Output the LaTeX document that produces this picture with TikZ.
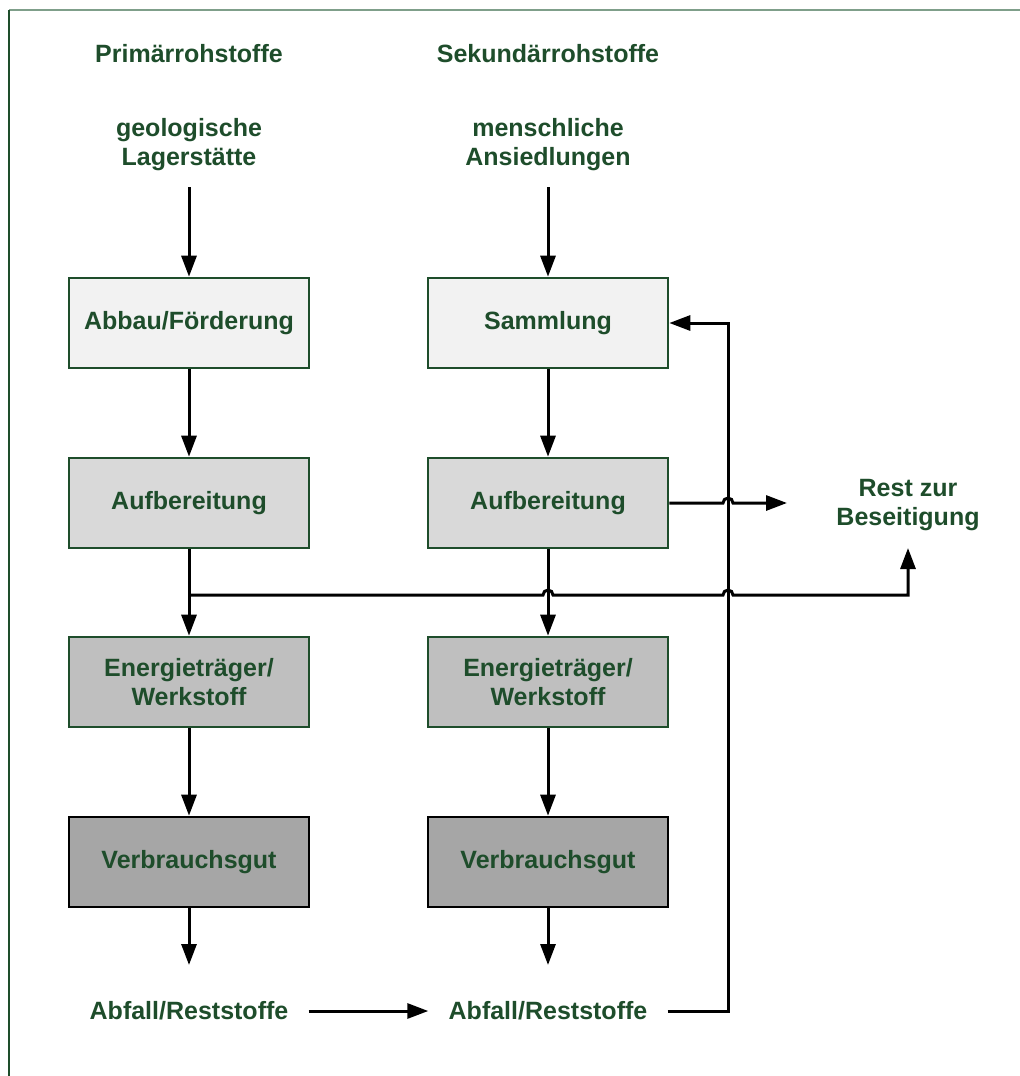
\documentclass[tikz,border=0pt]{standalone}
\usepackage{fontspec}
\setmainfont{Liberation Sans}
\usetikzlibrary{arrows.meta}
\definecolor{tg}{HTML}{1E4D2B}
\definecolor{fr}{HTML}{7F9F8A}
\definecolor{c1}{HTML}{F2F2F2}
\definecolor{c2}{HTML}{D9D9D9}
\definecolor{c3}{HTML}{BFBFBF}
\definecolor{c4}{HTML}{A6A6A6}
\begin{document}
\begin{tikzpicture}[x=0.5pt,y=-0.5pt,
  txt/.style={font=\bfseries\fontsize{12.5}{14.5}\selectfont, text=tg, align=center},
  box/.style={txt, draw=tg, line width=1.3pt, minimum width=120pt, minimum height=45pt, inner sep=0pt},
  lbl/.style={txt},
  arr/.style={line width=1.5pt, -{Triangle[length=10.5pt,width=7.5pt]}},
  ln/.style={line width=1.5pt}]
\useasboundingbox (0,0) rectangle (1020,1076);
\fill[white] (0,0) rectangle (1020,1076);
% frame
\draw[fr, line width=1.2pt] (9,10) -- (1020,10);
\draw[tg, line width=1pt] (9,10) -- (9,1076);
% headings
\node[lbl] (tp) at (189,54) {Primärrohstoffe};
\node[lbl] (ts) at (548,54) {Sekundärrohstoffe};
\node[lbl] (gp) at (189,145) {geologische\\Lagerstätte};
\node[lbl] (gs) at (548,145) {menschliche\\Ansiedlungen};
% boxes
\node[box, fill=c1] (p1) at (189,323) {Abbau/Förderung};
\node[box, fill=c1] (s1) at (548,323) {Sammlung};
\node[box, fill=c2] (p2) at (189,503) {Aufbereitung};
\node[box, fill=c2] (s2) at (548,503) {Aufbereitung};
\node[box, fill=c3] (p3) at (189,682) {Energieträger/\\Werkstoff};
\node[box, fill=c3] (s3) at (548,682) {Energieträger/\\Werkstoff};
\node[box, fill=c4, draw=black] (p4) at (189,862) {Verbrauchsgut};
\node[box, fill=c4, draw=black] (s4) at (548,862) {Verbrauchsgut};
\node[lbl] (rest) at (908,505) {Rest zur\\Beseitigung};
\node[lbl, inner xsep=10pt] (ap) at (189,1011) {Abfall/Reststoffe};
\node[lbl, inner xsep=10pt] (as) at (548,1011) {Abfall/Reststoffe};
% coordinates
\coordinate (gpo) at (189,187);
\coordinate (gso) at (548,187);
\coordinate (pe) at (189,965);
\coordinate (se) at (548,965);
\coordinate (jl) at (189,595);
\coordinate (rt) at (908,548);
\coordinate (re) at (787,503);
\coordinate (fb) at (728,1011);
% connectors
\draw[arr] (gpo) -- (p1.north);
\draw[arr] (gso) -- (s1.north);
\draw[arr] (p1) -- (p2);
\draw[arr] (s1) -- (s2);
\draw[arr] (p2) -- (p3);
\draw[arr] (s2) -- (s3);
\draw[arr] (p3) -- (p4);
\draw[arr] (s3) -- (s4);
\draw[arr] (p4.south) -- (pe);
\draw[arr] (s4.south) -- (se);
\draw[arr] (ap) -- (as);
\draw[arr] (as.east) -- (fb) -- (fb |- s1.east) -- (s1.east);
\draw[arr] (s2.east) -- ([xshift=-2.5pt]fb |- s2.east)
  arc[start angle=180, end angle=0, radius=2.5pt] -- (re);
\draw[arr] (jl) -- ([xshift=-2.5pt]s2.south |- jl)
  arc[start angle=180, end angle=0, radius=2.5pt]
  -- ([xshift=-2.5pt]fb |- jl)
  arc[start angle=180, end angle=0, radius=2.5pt]
  -- (rt |- jl) -- (rt);
\end{tikzpicture}
\end{document}
